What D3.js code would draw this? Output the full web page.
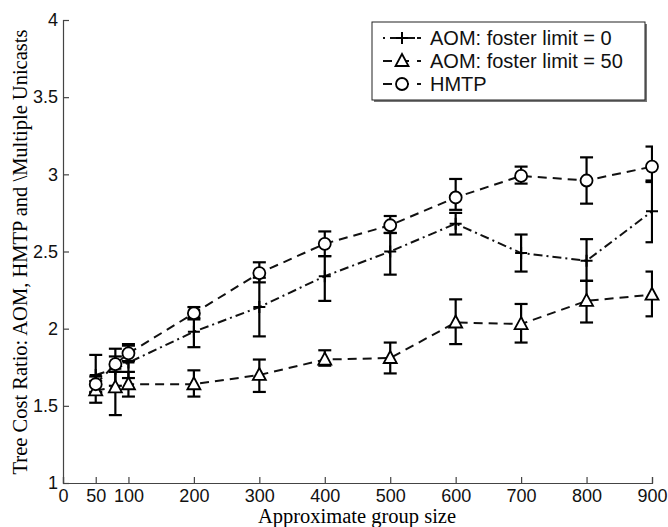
<!DOCTYPE html>
<html>
<head>
<meta charset="utf-8">
<script src="https://cdn.jsdelivr.net/npm/d3@7"></script>
<style>
  body { margin: 0; background: #fff; }
  svg { display: block; }
</style>
</head>
<body>
<svg id="chart" width="668" height="527"></svg>
<script>
// group sizes on the x axis
var groupSizes = [50, 80, 100, 200, 300, 400, 500, 600, 700, 800, 900];
var xTicks = [0, 50, 100, 200, 300, 400, 500, 600, 700, 800, 900];
var yTicks = [1, 1.5, 2, 2.5, 3, 3.5, 4];

// AOM: foster limit = 0
var aom0 = [1.70, 1.74, 1.78, 1.98, 2.14, 2.34, 2.50, 2.68, 2.49, 2.44, 2.76];
var aom0Lo = [1.58, 1.63, 1.68, 1.88, 1.95, 2.18, 2.35, 2.61, 2.37, 2.31, 2.56];
var aom0Hi = [1.83, 1.87, 1.90, 2.07, 2.33, 2.47, 2.62, 2.75, 2.61, 2.58, 2.95];
// AOM: foster limit = 50
var aom50 = [1.60, 1.62, 1.64, 1.64, 1.70, 1.80, 1.81, 2.04, 2.03, 2.18, 2.22];
var aom50Lo = [1.52, 1.44, 1.56, 1.56, 1.59, 1.76, 1.71, 1.90, 1.91, 2.04, 2.08];
var aom50Hi = [1.66, 1.72, 1.72, 1.73, 1.80, 1.86, 1.91, 2.19, 2.16, 2.31, 2.37];
// HMTP
var hmtp = [1.64, 1.77, 1.84, 2.10, 2.36, 2.55, 2.67, 2.85, 2.99, 2.96, 3.05];
var hmtpLo = [1.59, 1.72, 1.79, 2.06, 2.30, 2.47, 2.62, 2.77, 2.94, 2.81, 2.96];
var hmtpHi = [1.69, 1.82, 1.89, 2.14, 2.43, 2.63, 2.73, 2.97, 3.05, 3.11, 3.18];

var seriesNames = ['AOM: foster limit = 0', 'AOM: foster limit = 50', 'HMTP'];

var svg = d3.select('#chart');
var x = d3.scaleLinear().domain([0, 900]).range([63, 652]);
var y = d3.scaleLinear().domain([1, 4]).range([483, 20]);

var sansFont = '"Liberation Sans", Arial, sans-serif';
var serifFont = '"Liberation Serif", "Times New Roman", serif';

var series = [
  { name: seriesNames[0], mean: aom0, lo: aom0Lo, hi: aom0Hi, dash: '9,4,2,4', marker: 'plus' },
  { name: seriesNames[1], mean: aom50, lo: aom50Lo, hi: aom50Hi, dash: '9,6', marker: 'tri' },
  { name: seriesNames[2], mean: hmtp, lo: hmtpLo, hi: hmtpHi, dash: '9,6', marker: 'circ' }
];

svg.append('clipPath').attr('id', 'plotclip')
  .append('rect').attr('x', 0).attr('y', 0).attr('width', x(900) + 1).attr('height', 527);

// axes
var xAxis = svg.append('g').attr('transform', 'translate(0,' + y(1) + ')')
  .call(d3.axisBottom(x).tickValues(xTicks).tickSize(-6).tickPadding(6).tickFormat(d3.format('d')));
var yAxis = svg.append('g').attr('transform', 'translate(' + x(0) + ',0)')
  .call(d3.axisLeft(y).tickValues(yTicks).tickSize(-6).tickPadding(5).tickFormat((d) => d3.format('')(d)));

[xAxis, yAxis].forEach((g) => {
  g.selectAll('path, line').attr('stroke', '#444').attr('stroke-width', 1.2);
  g.selectAll('text').attr('fill', '#111').style('font-family', sansFont).style('font-size', '18px');
});

// axis titles
svg.append('text').attr('x', 357).attr('y', 523).attr('text-anchor', 'middle')
  .style('font-family', serifFont).style('font-size', '20.5px').text('Approximate group size');
svg.append('text').attr('transform', 'translate(27,252) rotate(-90)').attr('text-anchor', 'middle')
  .style('font-family', serifFont).style('font-size', '20.5px')
  .text('Tree Cost Ratio: AOM, HMTP and \\Multiple Unicasts');

var drawMarker = (g, kind, cx, cy) => {
  if (kind === 'plus') {
    g.append('path').attr('d', 'M' + (cx - 6) + ',' + cy + 'H' + (cx + 6) + 'M' + cx + ',' + (cy - 6) + 'V' + (cy + 6))
      .attr('stroke', '#000').attr('stroke-width', 2).attr('fill', 'none');
  } else if (kind === 'tri') {
    g.append('path').attr('d', 'M' + cx + ',' + (cy - 7) + 'L' + (cx + 6.5) + ',' + (cy + 5) + 'L' + (cx - 6.5) + ',' + (cy + 5) + 'Z')
      .attr('stroke', '#000').attr('stroke-width', 1.8).attr('fill', '#fff');
  } else {
    g.append('circle').attr('cx', cx).attr('cy', cy).attr('r', 6)
      .attr('stroke', '#000').attr('stroke-width', 1.8).attr('fill', '#fff');
  }
};

var line = d3.line().x((d) => x(d[0])).y((d) => y(d[1]));

series.forEach((s) => {
  var pts = groupSizes.map((g, i) => [g, s.mean[i]]);
  svg.append('path').datum(pts).attr('d', line)
    .attr('fill', 'none').attr('stroke', '#111').attr('stroke-width', 2).attr('stroke-dasharray', s.dash);

  var bars = svg.append('g').attr('clip-path', 'url(#plotclip)')
    .selectAll('g').data(groupSizes).enter().append('g');
  bars.append('line').attr('x1', (d) => x(d)).attr('x2', (d) => x(d))
    .attr('y1', (d, i) => y(s.lo[i])).attr('y2', (d, i) => y(s.hi[i]));
  bars.append('line').attr('x1', (d) => x(d) - 6.5).attr('x2', (d) => x(d) + 6.5)
    .attr('y1', (d, i) => y(s.lo[i])).attr('y2', (d, i) => y(s.lo[i]));
  bars.append('line').attr('x1', (d) => x(d) - 6.5).attr('x2', (d) => x(d) + 6.5)
    .attr('y1', (d, i) => y(s.hi[i])).attr('y2', (d, i) => y(s.hi[i]));
  bars.selectAll('line').attr('stroke', '#000').attr('stroke-width', 2.2);
});

series.forEach((s) => {
  var mg = svg.append('g');
  groupSizes.forEach((g, i) => drawMarker(mg, s.marker, x(g), y(s.mean[i])));
});

// legend
var legend = svg.append('g');
legend.append('rect').attr('x', 374).attr('y', 24).attr('width', 273).attr('height', 78).attr('fill', '#777');
legend.append('rect').attr('x', 372).attr('y', 22).attr('width', 273).attr('height', 78)
  .attr('fill', '#fff').attr('stroke', '#222').attr('stroke-width', 1);

series.forEach((s, i) => {
  var ly = 38 + i * 23;
  legend.append('line').attr('x1', 383).attr('x2', 421).attr('y1', ly).attr('y2', ly)
    .attr('stroke', '#111').attr('stroke-width', 2).attr('stroke-dasharray', i === 0 ? '2,5,10,6,9' : '9,8');
  drawMarker(legend, s.marker, 402, ly);
  legend.append('text').attr('x', 430).attr('y', ly).attr('dy', '0.35em')
    .style('font-family', sansFont).style('font-size', '20px').attr('fill', '#111').text(s.name);
});
</script>
</body>
</html>
